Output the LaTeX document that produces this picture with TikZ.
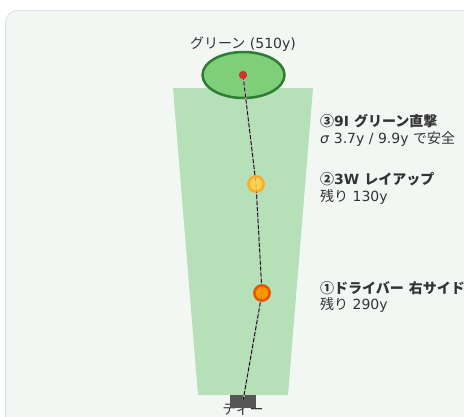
\documentclass[tikz,border=0pt]{standalone}
\usepackage{fontspec}
\setmainfont{DejaVu Sans}
\newfontfamily\jp{Noto Sans CJK JP}
\definecolor{bgfill}{HTML}{F3F7F4}
\definecolor{bgline}{HTML}{DDE2EE}
\definecolor{fairway}{HTML}{B5E0B8}
\definecolor{greenfill}{HTML}{7FCF7A}
\definecolor{greenline}{HTML}{2E7D32}
\definecolor{pin}{HTML}{D32F2F}
\definecolor{teecol}{HTML}{555555}
\definecolor{txt}{HTML}{333333}
\definecolor{ballA}{HTML}{FF9800}
\definecolor{ballAl}{HTML}{E65100}
\definecolor{ballB}{HTML}{FFD54F}
\definecolor{ballBl}{HTML}{FFA726}
\tikzset{
  lbl/.style={text=txt, font=\fontsize{14}{16}\selectfont, anchor=west, inner sep=0pt},
  lblb/.style={lbl, font=\fontsize{14}{16}\selectfont\bfseries},
  ball/.style={circle, inner sep=0pt, minimum size=15pt, line width=2.5pt},
}
\begin{document}
\begin{tikzpicture}[x=1pt,y=-1pt]
\useasboundingbox (0,0) rectangle (464,416);
\draw[bgline, fill=bgfill, line width=1pt, rounded corners=12pt] (5.5,10.5) rectangle (475,440);
% fairway
\fill[fairway] (173,88) -- (313,88) -- (288,395) -- (198,395) -- cycle;
% green
\draw[greenline, fill=greenfill, line width=2.5pt] (243.5,75) ellipse [x radius=41, y radius=23];
\node[text=txt, font=\fontsize{14}{16}\selectfont] (glabel) at (243,44) {{\jp グリーン} (510y)};
% tee label and box
\node[text=txt, font=\fontsize{14}{16}\selectfont\jp, inner sep=0pt] (teelabel) at (243,410) {ティー};
\node[fill=teecol, minimum width=26pt, minimum height=13pt, inner sep=0pt] (tee) at (243,401.5) {};
% shot positions
\coordinate (t0) at (243,401);
\node[ball, fill=ballA, draw=ballAl] (b1) at (262,293) {};
\node[ball, fill=ballB, draw=ballBl] (b2) at (256,184) {};
\node[circle, fill=pin, inner sep=0pt, minimum size=8pt] (pin) at (243,75) {};
% path
\draw[gray!60, line width=1.5pt] (t0) -- (b1.center) -- (b2.center) -- (pin.center);
\draw[black, line width=0.8pt, dash pattern=on 4pt off 2pt] (t0) -- (b1.center) -- (b2.center) -- (pin.center);
\node[ball, fill=ballA, draw=ballAl, opacity=0.8] (b1t) at (262,293) {};
\node[ball, fill=ballB, draw=ballBl, opacity=0.8] (b2t) at (256,184) {};
\node[circle, fill=pin, inner sep=0pt, minimum size=8pt] (pint) at (243,75) {};
% labels
\node[lblb] (l3a) at (320,121) {{\jp ③}9I {\jp グリーン直撃}};
\node[lbl] (l3b) at (320,139) {\textit{σ} 3.7y / 9.9y {\jp で安全}};
\node[lblb] (l2a) at (320,179) {{\jp ②}3W {\jp レイアップ}};
\node[lbl] (l2b) at (320,197) {{\jp 残り} 130y};
\node[lblb] (l1a) at (320,288) {{\jp ①ドライバー} {\jp 右サイド}};
\node[lbl] (l1b) at (320,305) {{\jp 残り} 290y};
\end{tikzpicture}
\end{document}
